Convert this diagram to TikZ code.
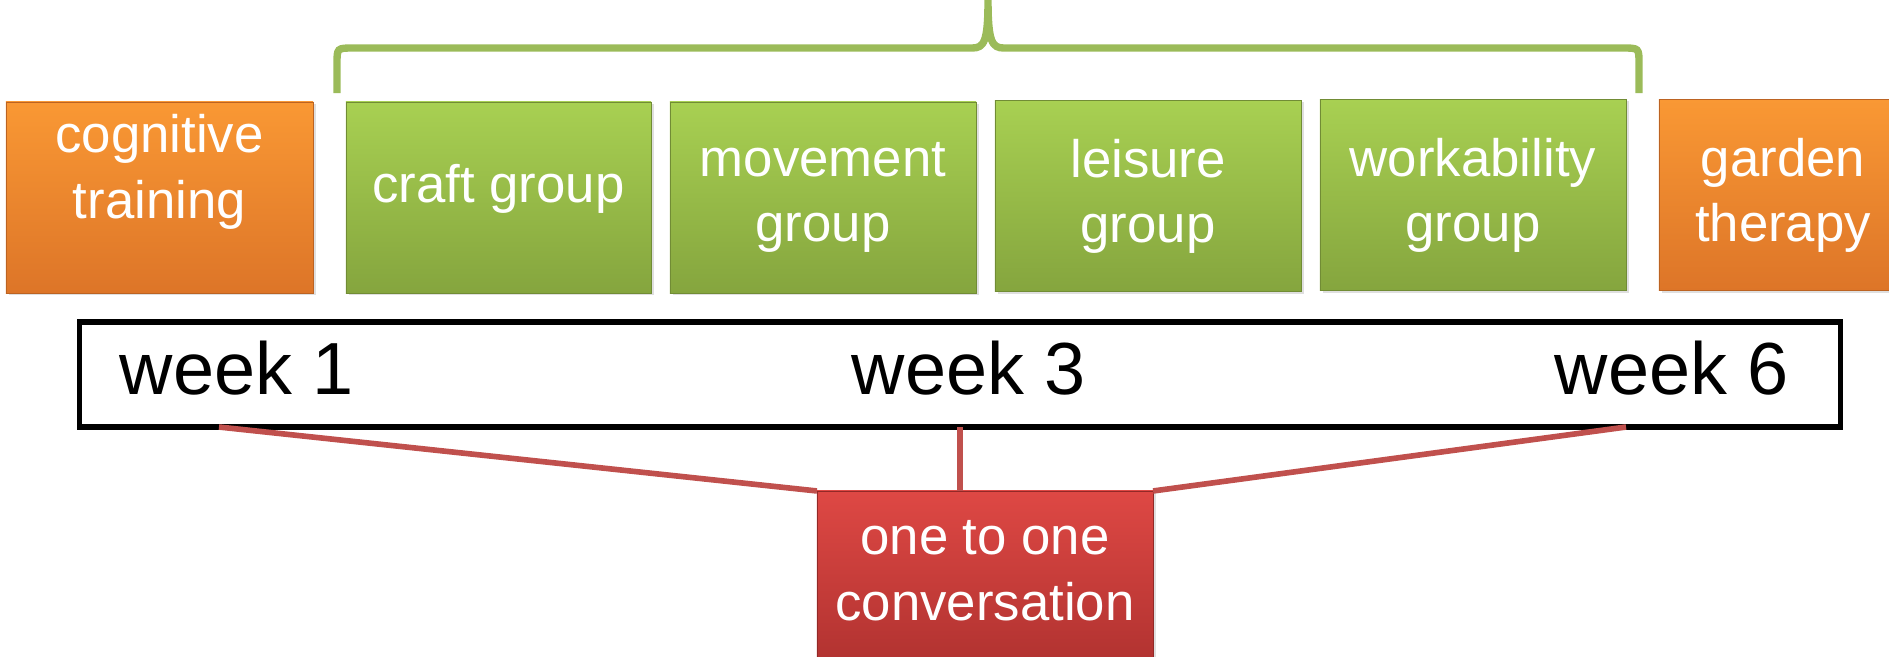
\documentclass[tikz,border=0pt]{standalone}
\usepackage{fontspec}
\setmainfont{Liberation Sans}
\usetikzlibrary{shadows}

\begin{document}
\begin{tikzpicture}[x=0.01cm, y=-0.01cm,
    box/.style={rectangle, inner sep=0pt, outer sep=0pt, minimum width=3.06cm, minimum height=1.91cm,
        align=center, text=white, font=\fontsize{15}{18.5}\selectfont, very thin,
        drop shadow={opacity=0.25, shadow xshift=0.03cm, shadow yshift=-0.02cm}},
    orangebox/.style={box, top color=orangetop, bottom color=orangebot, draw=orangebot!85!black},
    greenbox/.style={box, top color=greentop, bottom color=greenbot, draw=greenbot!85!black},
    redbox/.style={box, top color=redtop, bottom color=redbot, draw=redbot!85!black},
    weeklabel/.style={anchor=base west, inner sep=0pt, font=\fontsize{21}{25}\selectfont},
    link/.style={line width=1.6pt, linkred}]
    \definecolor{orangetop}{RGB}{249, 152, 52}
    \definecolor{orangebot}{RGB}{221, 117, 40}
    \definecolor{greentop}{RGB}{168, 208, 82}
    \definecolor{greenbot}{RGB}{133, 165, 62}
    \definecolor{redtop}{RGB}{222, 72, 68}
    \definecolor{redbot}{RGB}{172, 48, 46}
    \definecolor{bracegreen}{RGB}{155, 187, 89}
    \definecolor{linkred}{RGB}{192, 80, 77}
    \useasboundingbox (0,0) rectangle (1889,656);

    % activity boxes
    \node[orangebox, minimum width=3.07cm, text height=1.04cm, text depth=0.63cm] (cognitive) at (159.5,197.5) {cognitive\\training};
    \node[greenbox, minimum width=3.05cm, text height=0.38cm, text depth=0.29cm] (craft) at (498.5,197.5) {craft group};
    \node[greenbox] (movement) at (823,197.5) {movement\\group};
    \node[greenbox] (leisure) at (1148,196) {leisure\\group};
    \node[greenbox] (workability) at (1473,195) {workability\\group};
    \node[orangebox, minimum width=2.48cm] (garden) at (1783,195) {garden\\therapy};

    % brace over the groups
    \draw[bracegreen, line width=2.1pt] (337,93) -- (337,64) .. controls (337,48) .. (353,48) -- (972,48)
        .. controls (984,48) and (988,42) .. (988,0) .. controls (988,42) and (992,48) .. (1004,48)
        -- (1623,48) .. controls (1639,48) .. (1639,64) -- (1639,93);

    % time line
    \node[draw, line width=1.6pt, inner sep=0pt, minimum width=17.6cm, minimum height=1.05cm] (weeks) at (960,374.5) {};
    \node[weeklabel] (week1) at (119,394) {week 1};
    \node[weeklabel] (week3) at (851,394) {week 3};
    \node[weeklabel] (week6) at (1554,394) {week 6};

    \node[redbox, minimum width=3.36cm, text height=1.04cm, text depth=0.37cm] (talk) at (985,586.5) {one to one\\conversation};

    \coordinate (w1) at (219,427);
    \coordinate (w3) at (960,427);
    \coordinate (w6) at (1626,427);
    \draw[link] (w1) -- (talk.north west);
    \draw[link] (w3) -- (w3 |- talk.north);
    \draw[link] (w6) -- (talk.north east);
\end{tikzpicture}
\end{document}
